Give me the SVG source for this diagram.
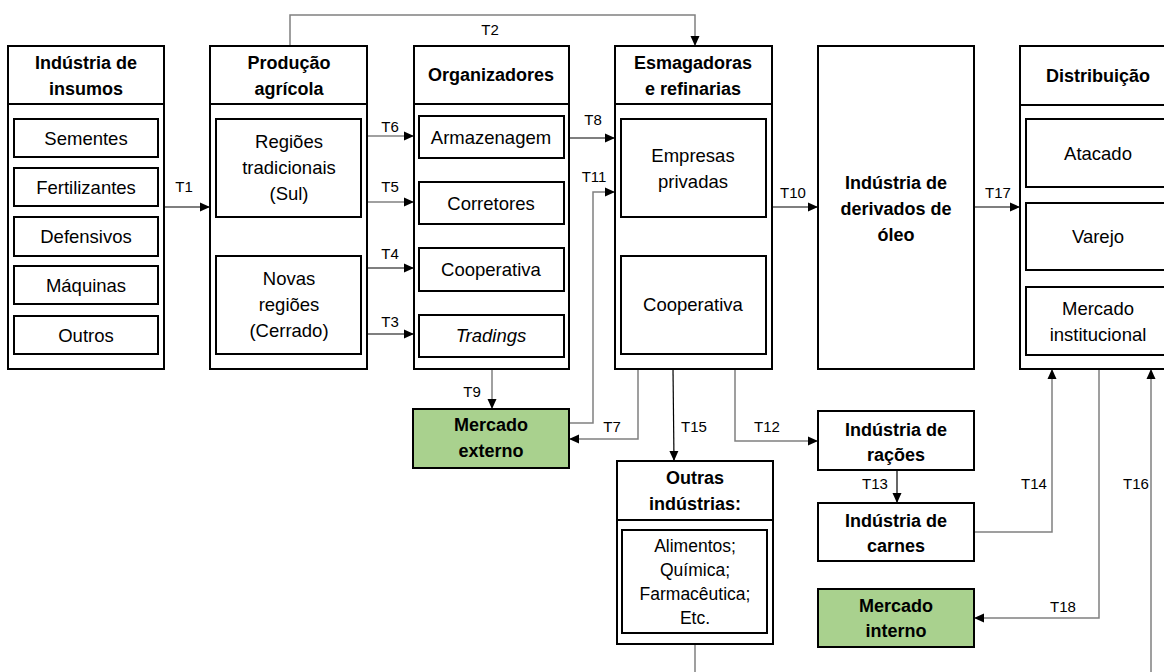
<svg xmlns="http://www.w3.org/2000/svg" width="1164" height="672" viewBox="0 0 1164 672">
<defs>
<marker id="ah" viewBox="0 0 10 10" refX="10" refY="5" markerWidth="10" markerHeight="10" markerUnits="userSpaceOnUse" orient="auto">
<path d="M0,0.5 L10,5 L0,9.5 Z" fill="#000"/>
</marker>
<style>
.box{fill:#fff;stroke:#000;stroke-width:2}
.in{fill:#fff;stroke:#000;stroke-width:2}
.green{fill:#a9d18e;stroke:#000;stroke-width:2}
.div{stroke:#000;stroke-width:2}
.h{font-family:"Liberation Sans",Arial,sans-serif;font-size:18px;font-weight:bold;fill:#000;text-anchor:middle}
.t{font-family:"Liberation Sans",Arial,sans-serif;font-size:18.5px;fill:#000;text-anchor:middle}
.s{font-family:"Liberation Sans",Arial,sans-serif;font-size:17.5px;fill:#000;text-anchor:middle}
.lb{font-family:"Liberation Sans",Arial,sans-serif;font-size:15px;fill:#000;text-anchor:middle}
.c{fill:none;stroke:#000;stroke-width:1.2}
.g{fill:none;stroke:#808080;stroke-width:1.5}
</style>
</defs>
<rect width="1164" height="672" fill="#fff"/>

<g id="connectors">
<path class="c" d="M164,207 H210" marker-end="url(#ah)"/>
<path class="g" d="M290,46 V15 H695 V46" marker-end="url(#ah)"/>
<path class="g" d="M367,136 H414" marker-end="url(#ah)"/>
<path class="g" d="M367,202 H414" marker-end="url(#ah)"/>
<path class="c" d="M367,268 H414" marker-end="url(#ah)"/>
<path class="c" d="M367,334 H414" marker-end="url(#ah)"/>
<path class="c" d="M569,138 H615" marker-end="url(#ah)"/>
<path class="g" d="M569,423 H593 V192 H615" marker-end="url(#ah)"/>
<path class="c" d="M772,207 H818" marker-end="url(#ah)"/>
<path class="c" d="M974,207 H1020" marker-end="url(#ah)"/>
<path class="g" d="M492,369 V409" marker-end="url(#ah)"/>
<path class="g" d="M638,369 V439 H569" marker-end="url(#ah)"/>
<path class="c" d="M673,369 L674,461" marker-end="url(#ah)"/>
<path class="g" d="M735,369 V441 H818" marker-end="url(#ah)"/>
<path class="c" d="M897,470 V503" marker-end="url(#ah)"/>
<path class="g" d="M974,532 H1052 V369" marker-end="url(#ah)"/>
<path class="g" d="M695,644 V700 H1151 V369" marker-end="url(#ah)"/>
<path class="g" d="M1099,369 V618 H974" marker-end="url(#ah)"/>
<text class="lb" x="184" y="192">T1</text>
<text class="lb" x="490" y="35">T2</text>
<text class="lb" x="390" y="132">T6</text>
<text class="lb" x="390" y="192">T5</text>
<text class="lb" x="390" y="259">T4</text>
<text class="lb" x="390" y="327">T3</text>
<text class="lb" x="593" y="125">T8</text>
<text class="lb" x="594" y="182">T11</text>
<text class="lb" x="793" y="198">T10</text>
<text class="lb" x="998" y="198">T17</text>
<text class="lb" x="472" y="397">T9</text>
<text class="lb" x="612" y="432">T7</text>
<text class="lb" x="694" y="432">T15</text>
<text class="lb" x="767" y="432">T12</text>
<text class="lb" x="875" y="489">T13</text>
<text class="lb" x="1034" y="489">T14</text>
<text class="lb" x="1136" y="489">T16</text>
<text class="lb" x="1063" y="612">T18</text>
</g>

<g id="insumos">
<rect class="box" x="8" y="46" width="156" height="323"/>
<line class="div" x1="8" y1="104" x2="164" y2="104"/>
<text class="h" x="86" y="69">Indústria de</text>
<text class="h" x="86" y="95">insumos</text>
<rect class="in" x="14" y="119" width="144" height="38"/>
<text class="t" x="86" y="145">Sementes</text>
<rect class="in" x="14" y="168" width="144" height="38"/>
<text class="t" x="86" y="194">Fertilizantes</text>
<rect class="in" x="14" y="217" width="144" height="39"/>
<text class="t" x="86" y="243">Defensivos</text>
<rect class="in" x="14" y="266" width="144" height="38"/>
<text class="t" x="86" y="292">Máquinas</text>
<rect class="in" x="14" y="316" width="144" height="38"/>
<text class="t" x="86" y="342">Outros</text>
</g>

<g id="producao">
<rect class="box" x="210" y="46" width="157" height="323"/>
<line class="div" x1="210" y1="104" x2="367" y2="104"/>
<text class="h" x="289" y="69">Produção</text>
<text class="h" x="289" y="95">agrícola</text>
<rect class="in" x="216" y="119" width="145" height="98"/>
<text class="t" x="289" y="148">Regiões</text>
<text class="t" x="289" y="174">tradicionais</text>
<text class="t" x="289" y="200">(Sul)</text>
<rect class="in" x="216" y="256" width="145" height="98"/>
<text class="t" x="289" y="285">Novas</text>
<text class="t" x="289" y="311">regiões</text>
<text class="t" x="289" y="337">(Cerrado)</text>
</g>

<g id="organizadores">
<rect class="box" x="414" y="46" width="155" height="323"/>
<line class="div" x1="414" y1="104" x2="569" y2="104"/>
<text class="h" x="491" y="81">Organizadores</text>
<rect class="in" x="419" y="116" width="145" height="42"/>
<text class="t" x="491" y="144">Armazenagem</text>
<rect class="in" x="419" y="182" width="145" height="42"/>
<text class="t" x="491" y="210">Corretores</text>
<rect class="in" x="419" y="248" width="145" height="43"/>
<text class="t" x="491" y="276">Cooperativa</text>
<rect class="in" x="419" y="315" width="145" height="42"/>
<text class="t" x="491" y="342" font-style="italic">Tradings</text>
</g>

<g id="esmagadoras">
<rect class="box" x="615" y="46" width="157" height="323"/>
<line class="div" x1="615" y1="104" x2="772" y2="104"/>
<text class="h" x="693" y="69">Esmagadoras</text>
<text class="h" x="693" y="95">e refinarias</text>
<rect class="in" x="621" y="119" width="145" height="98"/>
<text class="t" x="693" y="162">Empresas</text>
<text class="t" x="693" y="188">privadas</text>
<rect class="in" x="621" y="256" width="145" height="98"/>
<text class="t" x="693" y="311">Cooperativa</text>
</g>

<g id="derivados">
<rect class="box" x="818" y="46" width="156" height="323"/>
<text class="h" x="896" y="189">Indústria de</text>
<text class="h" x="896" y="215">derivados de</text>
<text class="h" x="896" y="241">óleo</text>
</g>

<g id="distribuicao">
<rect class="box" x="1020" y="46" width="156" height="323"/>
<line class="div" x1="1020" y1="105" x2="1176" y2="105"/>
<text class="h" x="1098" y="82">Distribuição</text>
<rect class="in" x="1026" y="119" width="145" height="68"/>
<text class="t" x="1098" y="160">Atacado</text>
<rect class="in" x="1026" y="203" width="145" height="67"/>
<text class="t" x="1098" y="243">Varejo</text>
<rect class="in" x="1026" y="287" width="145" height="68"/>
<text class="t" x="1098" y="315">Mercado</text>
<text class="t" x="1098" y="341">institucional</text>
</g>

<g id="mercado-externo">
<rect class="green" x="413" y="409" width="156" height="59"/>
<text class="h" x="491" y="431">Mercado</text>
<text class="h" x="491" y="457">externo</text>
</g>

<g id="outras">
<rect class="box" x="617" y="461" width="156" height="183"/>
<line class="div" x1="617" y1="520" x2="773" y2="520"/>
<text class="h" x="695" y="484">Outras</text>
<text class="h" x="695" y="510">indústrias:</text>
<rect class="in" x="622" y="530" width="145" height="103"/>
<text class="s" x="695" y="552">Alimentos;</text>
<text class="s" x="695" y="576">Química;</text>
<text class="s" x="695" y="600">Farmacêutica;</text>
<text class="s" x="695" y="624">Etc.</text>
</g>

<g id="racoes">
<rect class="box" x="818" y="411" width="156" height="59"/>
<text class="h" x="896" y="436">Indústria de</text>
<text class="h" x="896" y="461">rações</text>
</g>

<g id="carnes">
<rect class="box" x="818" y="503" width="156" height="58"/>
<text class="h" x="896" y="527">Indústria de</text>
<text class="h" x="896" y="552">carnes</text>
</g>

<g id="mercado-interno">
<rect class="green" x="818" y="589" width="156" height="58"/>
<text class="h" x="896" y="612">Mercado</text>
<text class="h" x="896" y="637">interno</text>
</g>
</svg>
